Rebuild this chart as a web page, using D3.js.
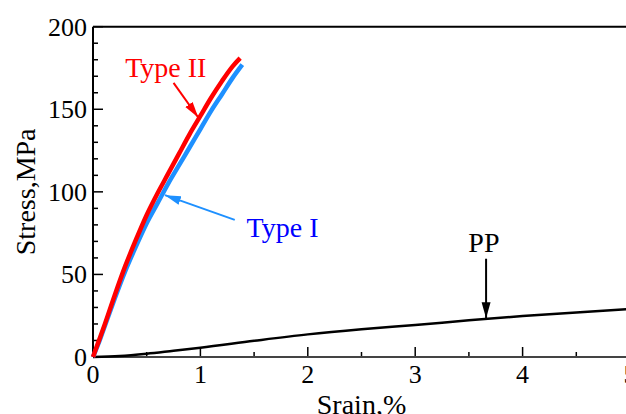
<!DOCTYPE html>
<html>
<head>
<meta charset="utf-8">
<script src="https://cdnjs.cloudflare.com/ajax/libs/d3/7.8.5/d3.min.js"></script>
<style>
	body { margin: 0; background: #fff; }
</style>
</head>
<body>
<div id="chart"></div>
<script>
var typeIIStrain = [0, 0.05, 0.1, 0.2, 0.3, 0.4, 0.5, 0.6, 0.7, 0.8, 0.9, 1.0, 1.1, 1.2, 1.3, 1.37];
var typeIIStress = [0, 9, 18, 37, 55, 71, 86, 99, 111, 123, 135, 146, 157, 167, 176, 181];

var typeIStrain = [0, 0.05, 0.1, 0.2, 0.3, 0.4, 0.5, 0.6, 0.7, 0.8, 0.9, 1.0, 1.1, 1.2, 1.3, 1.39];
var typeIStress = [0, 8, 17, 35, 52, 67, 81, 93, 105, 116, 127, 138, 149, 159, 169, 177];

var ppStrain = [0, 0.25, 0.5, 0.75, 1, 1.5, 2, 2.5, 3, 3.5, 4, 4.5, 5];
var ppStress = [0, 0.6, 2, 3.8, 5.6, 9.8, 13.7, 16.8, 19.4, 22.2, 24.8, 27, 29];

var xTicks = [0, 1, 2, 3, 4, 5];
var yTicks = [0, 50, 100, 150, 200];

// annotations: label pos + arrow start/end, in data units
var labels = [
	{text: "Type II", x: 0.3, y: 169.5, color: "#ff0000", anchor: "start"},
	{text: "Type I", x: 1.43, y: 72.7, color: "#0000ff", anchor: "start"},
	{text: "PP", x: 3.64, y: 63.5, color: "#000", anchor: "middle"}
];
var arrows = [
	{x1: 0.75, y1: 166, x2: 0.98, y2: 145, color: "#ff0000"},
	{x1: 1.32, y1: 83, x2: 0.67, y2: 98, color: "#1e90ff"},
	{x1: 3.66, y1: 59.5, x2: 3.66, y2: 23.5, color: "#000"}
];

var FONT = "'Liberation Serif', 'Times New Roman', Times, 'Nimbus Roman', 'DejaVu Serif', serif";

function drawChart(){
	var width = 626, height = 414;

	var x = d3.scaleLinear().domain([0, 5]).range([93, 630]);
	var y = d3.scaleLinear().domain([0, 200]).range([357, 26.7]);

	var svg = d3.select("#chart").append("svg")
		.attr("width", width)
		.attr("height", height)
		.attr("font-family", FONT);

	var defs = svg.append("defs");
	arrows.forEach(function(a, i){
		defs.append("marker")
			.attr("id", "head" + i)
			.attr("viewBox", "0 0 10 10")
			.attr("refX", 10).attr("refY", 5)
			.attr("markerWidth", 8).attr("markerHeight", 8)
			.attr("markerUnits", "strokeWidth")
			.attr("orient", "auto")
		  .append("path")
			.attr("d", "M0,2.2L10,5L0,7.8Z")
			.style("fill", a.color);
	});

	// x axis, ticks pointing inward
	var gx = svg.append("g")
		.attr("transform", "translate(0," + y(0) + ")");
	gx.selectAll(".tk")
		.data(d3.range(0, 5.01, 0.5))
	  .enter().append("line")
		.attr("x1", function(d){ return x(d); })
		.attr("x2", function(d){ return x(d); })
		.attr("y1", 0)
		.attr("y2", function(d){ return d % 1 == 0 ? -10 : -5; })
		.style("stroke", "#000").style("stroke-width", 1.5);
	gx.append("line")
		.attr("x1", x(0)).attr("x2", x(5))
		.style("stroke", "#444").style("stroke-width", 2);
	gx.selectAll(".lbl")
		.data(xTicks)
	  .enter().append("text")
		.attr("x", function(d){ return x(d); })
		.attr("y", 26)
		.attr("text-anchor", "middle")
		.attr("font-family", FONT)
		.style("font-size", "26px")
		.text(function(d){ return d; });

	// y axis
	var gy = svg.append("g")
		.attr("transform", "translate(" + x(0) + ",0)");
	gy.selectAll(".tk")
		.data(d3.range(0, 201, 10))
	  .enter().append("line")
		.attr("y1", function(d){ return y(d); })
		.attr("y2", function(d){ return y(d); })
		.attr("x1", 0)
		.attr("x2", function(d){ return d % 50 == 0 ? 10 : 5; })
		.style("stroke", "#000").style("stroke-width", 1.5);
	gy.append("line")
		.attr("y1", y(0)).attr("y2", y(200))
		.style("stroke", "#000").style("stroke-width", 2);
	gy.selectAll(".lbl")
		.data(yTicks)
	  .enter().append("text")
		.attr("x", -6)
		.attr("y", function(d){ return y(d); })
		.attr("dy", "0.34em")
		.attr("text-anchor", "end")
		.attr("font-family", FONT)
		.style("font-size", "26px")
		.text(function(d){ return d; });

	// top frame
	svg.append("line")
		.attr("x1", x(0)).attr("x2", x(5))
		.attr("y1", y(200)).attr("y2", y(200))
		.style("stroke", "#000").style("stroke-width", 2);

	svg.append("text")
		.attr("x", (x(0) + x(5)) / 2)
		.attr("y", 414)
		.attr("text-anchor", "middle")
		.attr("font-family", FONT)
		.style("font-size", "28px")
		.text("Srain,%");

	svg.append("text")
		.attr("transform", "translate(35," + (y(0) + y(200)) / 2 + ") rotate(-90)")
		.attr("text-anchor", "middle")
		.attr("font-family", FONT)
		.style("font-size", "28px")
		.text("Stress,MPa");

	var line = d3.line()
		.x(function(d){ return x(d[0]); })
		.y(function(d){ return y(d[1]); })
		.curve(d3.curveMonotoneX);

	svg.append("path")
		.datum(d3.zip(ppStrain, ppStress))
		.attr("d", line)
		.style("fill", "none").style("stroke", "#000").style("stroke-width", 2.5);

	svg.append("path")
		.datum(d3.zip(typeIStrain, typeIStress))
		.attr("d", line)
		.style("fill", "none").style("stroke", "#1e90ff").style("stroke-width", 4.5);

	svg.append("path")
		.datum(d3.zip(typeIIStrain, typeIIStress))
		.attr("d", line)
		.style("fill", "none").style("stroke", "#ff0000").style("stroke-width", 4.5);

	svg.selectAll(".arrow")
		.data(arrows)
	  .enter().append("line")
		.attr("x1", function(d){ return x(d.x1); })
		.attr("y1", function(d){ return y(d.y1); })
		.attr("x2", function(d){ return x(d.x2); })
		.attr("y2", function(d){ return y(d.y2); })
		.attr("marker-end", function(d, i){ return "url(#head" + i + ")"; })
		.style("stroke", function(d){ return d.color; })
		.style("stroke-width", 2);

	svg.selectAll(".note")
		.data(labels)
	  .enter().append("text")
		.attr("x", function(d){ return x(d.x); })
		.attr("y", function(d){ return y(d.y); })
		.attr("text-anchor", function(d){ return d.anchor; })
		.attr("font-family", FONT)
		.style("fill", function(d){ return d.color; })
		.style("font-size", "28px")
		.text(function(d){ return d.text; });
}

drawChart();
</script>
</body>
</html>
